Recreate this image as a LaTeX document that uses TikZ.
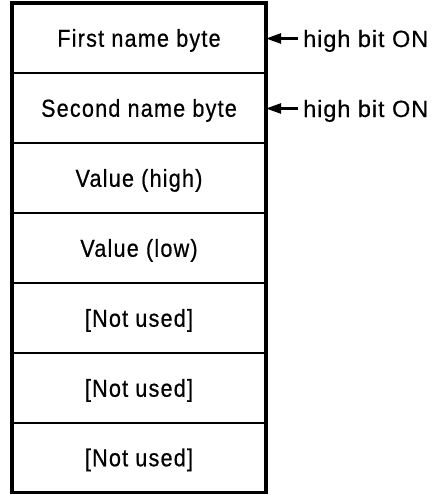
\documentclass[tikz,border=0pt]{standalone}
\usepackage{fontspec}
\setmainfont{Liberation Sans}
\newfontfamily\boxfont[FakeStretch=0.88,LetterSpace=5,FakeBold=0.6]{Liberation Sans}
\newfontfamily\labfont[LetterSpace=4,FakeBold=0.4]{Liberation Sans}
\usetikzlibrary{arrows.meta}
\begin{document}
\begin{tikzpicture}[x=1pt,y=-1pt,
  row/.style={draw=black, line width=1.5pt, minimum width=254pt, minimum height=70pt,
    inner sep=0pt, outer sep=0pt, text height=17.5pt, text depth=0pt,
    font=\boxfont\fontsize{24.5}{30}\selectfont},
  lab/.style={anchor=west, inner sep=0pt, text height=17pt, text depth=0pt,
    font=\labfont\fontsize{23.5}{28}\selectfont},
  arr/.style={-{Triangle[length=15pt,width=10pt]}, line width=2.4pt}]
\useasboundingbox (0,0) rectangle (439,495);
\node[row] (r1) at (139,38) {First name byte};
\node[row] (r2) at (139,108) {Second name byte};
\node[row] (r3) at (139,178) {Value (high)};
\node[row] (r4) at (139,248) {Value (low)};
\node[row] (r5) at (139,318) {[Not used]};
\node[row] (r6) at (139,388) {[Not used]};
\node[row] (r7) at (139,457.5) {[Not used]};
\draw[line width=3.2pt] (r1.north west) rectangle (r7.south east);
\node[lab] (l1) at (303,38.5) {high bit ON};
\node[lab] (l2) at (303,108.5) {high bit ON};
\coordinate (t1) at ([xshift=-5pt]l1.west);
\coordinate (t2) at ([xshift=-5pt]l2.west);
\draw[arr] (t1) -- (r1.east |- t1);
\draw[arr] (t2) -- (r2.east |- t2);
\end{tikzpicture}
\end{document}
